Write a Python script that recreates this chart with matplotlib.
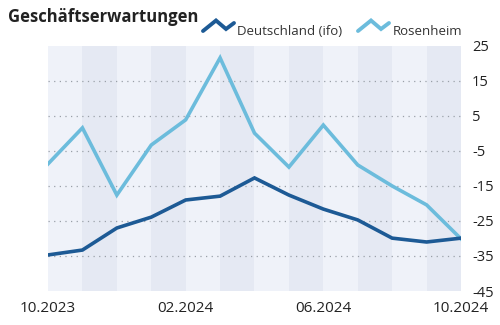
import matplotlib
matplotlib.use("Agg")
import matplotlib.pyplot as plt
import numpy as np
from matplotlib.lines import Line2D

plt.rcParams['font.family'] = ['Open Sans', 'DejaVu Sans']

# data (monthly, 10.2023 - 10.2024)
months = ['10.2023', '11.2023', '12.2023', '01.2024', '02.2024', '03.2024', '04.2024',
          '05.2024', '06.2024', '07.2024', '08.2024', '09.2024', '10.2024']
deutschland = [-34.7, -33.3, -27.0, -23.9, -19.0, -17.9, -12.7,
               -17.6, -21.6, -24.7, -29.9, -31.0, -29.9]
rosenheim = [-8.7, 1.6, -17.6, -3.3, 3.9, 21.6, 0.1,
             -9.6, 2.4, -9.0, -15.0, -20.4, -30.1]
y_ticks = [25, 15, 5, -5, -15, -25, -35, -45]
x_label_idx = [0, 4, 8, 12]

dark = '#1d5a95'
light = '#6cbcdc'

fig = plt.figure(figsize=(5, 3.25), dpi=100)
ax = fig.add_axes([0.096, 0.1046, 0.826, 0.754])

x = np.arange(len(months))

# alternating month bands
for i in range(len(months) - 1):
    ax.axvspan(i, i + 1, color='#eff2f9' if i % 2 == 0 else '#e5e9f3', lw=0, zorder=0)

# dotted gridlines
for v in y_ticks[1:-1]:
    ax.axhline(v, color='#9aa0a8', lw=0.9, ls=(0, (1, 3.5)), zorder=1)

ax.plot(x, rosenheim, color=light, lw=2.6, solid_joinstyle='miter', zorder=3)
ax.plot(x, deutschland, color=dark, lw=2.6, solid_joinstyle='miter', zorder=3)

ax.set_xlim(0, 12)
ax.set_ylim(-45, 25)
for s in ax.spines.values():
    s.set_visible(False)

ax.yaxis.tick_right()
ax.set_yticks(y_ticks)
ax.set_yticklabels([str(v) for v in y_ticks], fontsize=10.5, color='#222222')
ax.set_xticks(x_label_idx)
ax.set_xticklabels([months[i] for i in x_label_idx], fontsize=11, color='#222222')
ax.tick_params(length=0, pad=7)
ax.tick_params(axis='y', pad=8)

fig.text(0.016, 0.948, 'Geschäftserwartungen', fontsize=12, fontweight='bold',
         color='#222222', va='center')

# legend with zigzag icons
def zigzag(x0, color):
    xs = np.array([0, 13, 23, 31]) + x0
    ys = np.array([31, 20.5, 29, 23])
    fig.add_artist(Line2D(xs / 500, 1 - ys / 325, color=color, lw=2.8,
                          solid_joinstyle='miter', solid_capstyle='round'))

zigzag(203, dark)
fig.text(237 / 500, 1 - 31.5 / 325, 'Deutschland (ifo)', fontsize=9.5, color='#333333', va='center')
zigzag(358, light)
fig.text(393 / 500, 1 - 31.5 / 325, 'Rosenheim', fontsize=9.5, color='#333333', va='center')

fig.savefig('out.png', dpi=100)
